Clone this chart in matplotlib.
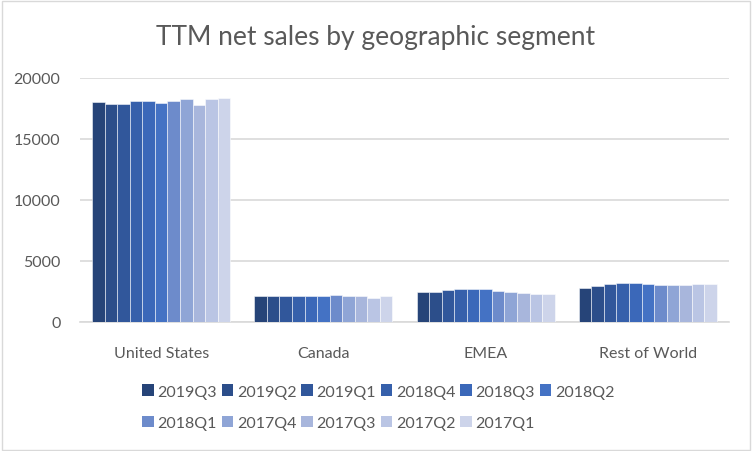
import matplotlib
matplotlib.use("Agg")
import matplotlib.pyplot as plt
from matplotlib.patches import Rectangle, Patch
import numpy as np

categories = ["United States", "Canada", "EMEA", "Rest of World"]
series = ["2019Q3", "2019Q2", "2019Q1", "2018Q4", "2018Q3", "2018Q2",
          "2018Q1", "2017Q4", "2017Q3", "2017Q2", "2017Q1"]
united_states = [18010, 17890, 17890, 18090, 18090, 17980, 18090, 18250, 17810, 18250, 18340]
canada = [2100, 2100, 2100, 2100, 2100, 2100, 2200, 2130, 2100, 2000, 2100]
emea = [2490, 2490, 2600, 2680, 2680, 2680, 2510, 2430, 2350, 2270, 2270]
rest_of_world = [2760, 2920, 3090, 3170, 3170, 3090, 3010, 3010, 3010, 3090, 3090]
colors = ["#264478", "#2c4e8a", "#31579b", "#3660ab", "#3b68b9", "#4472c4",
          "#6d8bcb", "#8fa5d6", "#a8b6dc", "#bac5e4", "#cdd4ea"]

values = np.array([united_states, canada, emea, rest_of_world])  # shape (4, 11)

plt.rcParams['font.family'] = ['Lato', 'DejaVu Sans']
fig = plt.figure(figsize=(7.52, 4.52), dpi=100)
ax = fig.add_axes([80/752, 1 - 323/452, (729-80)/752, (323-79)/452])

n = len(series)
x = np.arange(len(categories))
group = 0.852
w = group / n
for i, s in enumerate(series):
    pos = x - group/2 + w*(i + 0.5)
    ax.bar(pos, values[:, i], width=w, color=colors[i], edgecolor=(1, 1, 1, 0.6),
           linewidth=0.6, label=s, zorder=3)

ax.set_xlim(-0.5, len(categories) - 0.5)
ax.set_ylim(0, 20000)
ax.set_yticks([0, 5000, 10000, 15000, 20000])
ax.grid(axis='y', color='#d9d9d9', linewidth=1.2, zorder=0)
ax.set_axisbelow(True)
for sp in ['top', 'right', 'left']:
    ax.spines[sp].set_visible(False)
ax.spines['bottom'].set_color('#d9d9d9')
ax.spines['bottom'].set_linewidth(1.2)
ax.tick_params(axis='both', length=0, labelsize=11.5, colors='#595959')
ax.tick_params(axis='x', pad=17)
ax.tick_params(axis='y', pad=14)
ax.set_xticks(x)
ax.set_xticklabels(categories)

fig.text(376/752, 1 - 38/452, "TTM net sales by geographic segment", ha='center', va='center',
         fontsize=19, color='#595959')

order = [0, 6, 1, 7, 2, 8, 3, 9, 4, 10, 5]
leg_handles = [Patch(facecolor=colors[i], edgecolor='none') for i in order]
leg_labels = [series[i] for i in order]
leg = fig.legend(leg_handles, leg_labels, ncol=6, loc='upper left',
                 bbox_to_anchor=(136/752, 1 - 379/452), frameon=False,
                 fontsize=11.5, handlelength=0.7, handleheight=0.7, handletextpad=0.25,
                 columnspacing=0.3, labelspacing=1.1, borderaxespad=0)
for t in leg.get_texts():
    t.set_color('#595959')

fig.patches.append(Rectangle((2/752, 1/452), 748/752, 449/452, transform=fig.transFigure,
                             fill=False, edgecolor='#d9d9d9', linewidth=1.0))

fig.savefig("out.png", dpi=100)
